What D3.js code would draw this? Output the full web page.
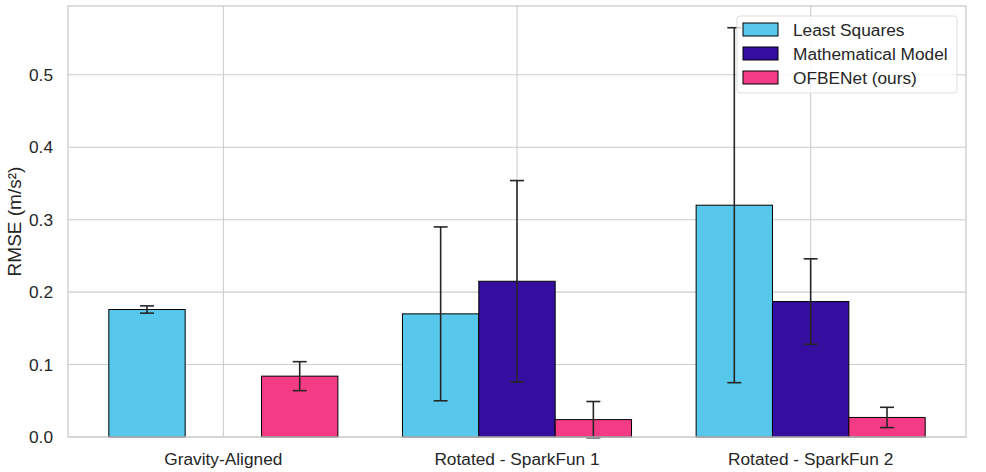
<!DOCTYPE html>
<html>
<head>
<meta charset="utf-8">
<style>
body { margin: 0; background: #fff; }
text { font-family: "Liberation Sans", Arial, sans-serif; fill: #262626; }
</style>
</head>
<body>
<div id="chart"></div>
<script src="https://cdn.jsdelivr.net/npm/d3@7"></script>
<script>
// data
var groups = ["Gravity-Aligned", "Rotated - SparkFun 1", "Rotated - SparkFun 2"];
var methods = ["Least Squares", "Mathematical Model", "OFBENet (ours)"];
var colors = ["#57c8ec", "#350e9f", "#f43c86"];
// null = no bar for that group
var leastSquares = [0.176, 0.170, 0.320];
var leastSquaresErr = [0.005, 0.120, 0.245];
var mathModel = [null, 0.215, 0.187];
var mathModelErr = [null, 0.139, 0.059];
var ofbenet = [0.084, 0.024, 0.027];
var ofbenetErr = [0.020, 0.025, 0.014];
var yTicks = [0.0, 0.1, 0.2, 0.3, 0.4, 0.5];

var values = [leastSquares, mathModel, ofbenet];
var errors = [leastSquaresErr, mathModelErr, ofbenetErr];

var W = 986, H = 472;
var plotL = 68, plotR = 966, plotT = 6, plotB = 437;
var barW = 0.26;

var svg = d3.select("#chart").append("svg").attr("width", W).attr("height", H);

// matplotlib-like 5% margins around the bars
var lo = -1.5 * barW, hi = groups.length - 1 + 1.5 * barW;
var pad = (hi - lo) * 0.05;
var x = d3.scaleLinear().domain([lo - pad, hi + pad]).range([plotL, plotR]);
var y = d3.scaleLinear().domain([0, 0.595]).range([plotB, plotT]);

// grid
svg.append("g").selectAll("line").data(yTicks).enter().append("line")
    .attr("x1", plotL).attr("x2", plotR)
    .attr("y1", function (d) { return y(d); }).attr("y2", function (d) { return y(d); })
    .attr("stroke", "#cccccc").attr("stroke-width", 1.1);
svg.append("g").selectAll("line").data(groups).enter().append("line")
    .attr("y1", plotT).attr("y2", plotB)
    .attr("x1", function (d, i) { return x(i); }).attr("x2", function (d, i) { return x(i); })
    .attr("stroke", "#cccccc").attr("stroke-width", 1.1);

// bars + error bars
var bars = [];
methods.forEach(function (m, j) {
    groups.forEach(function (g, i) {
        if (values[j][i] == null) return;
        bars.push({ i: i, j: j, v: values[j][i], e: errors[j][i] });
    });
});

svg.append("g").selectAll("rect").data(bars).enter().append("rect")
    .attr("x", function (d) { return x(d.i + (d.j - 1) * barW - barW / 2); })
    .attr("width", function (d) { return x(barW) - x(0); })
    .attr("y", function (d) { return y(d.v); })
    .attr("height", function (d) { return y(0) - y(d.v); })
    .attr("fill", function (d) { return colors[d.j]; })
    .attr("stroke", "#000").attr("stroke-width", 1);

var eb = svg.append("g").attr("stroke", "#262626").attr("stroke-width", 1.6);
bars.forEach(function (d) {
    var cx = x(d.i + (d.j - 1) * barW);
    var y1 = y(d.v + d.e), y2 = y(d.v - d.e);
    eb.append("line").attr("x1", cx).attr("x2", cx).attr("y1", y1).attr("y2", y2);
    eb.append("line").attr("x1", cx - 7).attr("x2", cx + 7).attr("y1", y1).attr("y2", y1);
    eb.append("line").attr("x1", cx - 7).attr("x2", cx + 7).attr("y1", y2).attr("y2", y2);
});

// frame
svg.append("rect").attr("x", plotL).attr("y", plotT)
    .attr("width", plotR - plotL).attr("height", plotB - plotT)
    .attr("fill", "none").attr("stroke", "#cccccc").attr("stroke-width", 1.3);

// axes labels
svg.append("g").selectAll("text").data(yTicks).enter().append("text")
    .attr("x", plotL - 15).attr("y", function (d) { return y(d) + 6; })
    .attr("text-anchor", "end").style("font-size", "17.3px")
    .text(function (d) { return d3.format(".1f")(d); });

svg.append("g").selectAll("text").data(groups).enter().append("text")
    .attr("x", function (d, i) { return x(i); }).attr("y", 465)
    .attr("text-anchor", "middle").style("font-size", "17.3px")
    .text(function (d) { return d; });

svg.append("text")
    .attr("transform", "translate(21," + ((plotT + plotB) / 2) + ") rotate(-90)")
    .attr("text-anchor", "middle").style("font-size", "19px")
    .text("RMSE (m/s²)");

// legend
var lg = svg.append("g").attr("transform", "translate(737,16)");
lg.append("rect").attr("width", 220).attr("height", 77).attr("rx", 3)
    .attr("fill", "#fff").attr("fill-opacity", 0.8)
    .attr("stroke", "#dddddd").attr("stroke-width", 1);
methods.forEach(function (m, j) {
    var row = lg.append("g").attr("transform", "translate(6," + (7 + j * 24) + ")");
    row.append("rect").attr("width", 35).attr("height", 13)
        .attr("fill", colors[j]).attr("stroke", "#000").attr("stroke-width", 1);
    row.append("text").attr("x", 50).attr("y", 12.5).style("font-size", "17.3px").text(m);
});
</script>
</body>
</html>
